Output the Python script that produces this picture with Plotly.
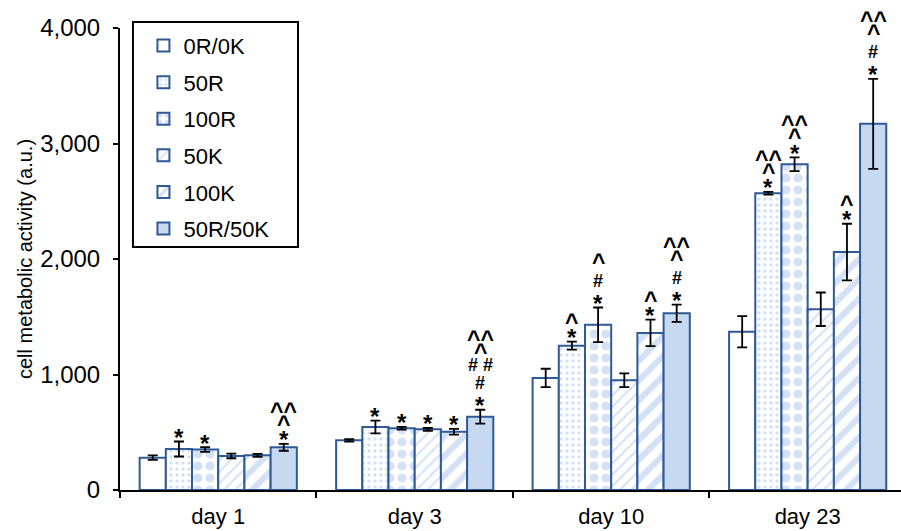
import plotly.graph_objects as go

# Categories and groups
days = ["day 1", "day 3", "day 10", "day 23"]
groups = ["0R/0K", "50R", "100R", "50K", "100K", "50R/50K"]

# Mean cell metabolic activity (a.u.) per group, one value per day
val_0r0k = [280, 430, 970, 1370]
val_50r = [355, 545, 1250, 2570]
val_100r = [350, 535, 1430, 2820]
val_50k = [295, 525, 950, 1565]
val_100k = [300, 505, 1360, 2060]
val_50r50k = [370, 635, 1530, 3170]

# Standard deviations
err_0r0k = [20, 10, 80, 135]
err_50r = [65, 55, 35, 12]
err_100r = [20, 12, 150, 60]
err_50k = [20, 12, 60, 145]
err_100k = [12, 25, 115, 245]
err_50r50k = [30, 60, 75, 390]

# Significance marks, listed from bottom to top
sig_0r0k = [[], [], [], []]
sig_50r = [["*"], ["*"], ["*", "^"], ["*", "^", "^^"]]
sig_100r = [["*"], ["*"], ["*", "#", "^"], ["*", "^", "^^"]]
sig_50k = [[], ["*"], [], []]
sig_100k = [[], ["*"], ["*", "^"], ["*", "^"]]
sig_50r50k = [["*", "^", "^^"], ["*", "#", "# #", "^", "^^"],
              ["*", "#", "^", "^^"], ["*", "#", "^", "^^"]]

values = [val_0r0k, val_50r, val_100r, val_50k, val_100k, val_50r50k]
errors = [err_0r0k, err_50r, err_100r, err_50k, err_100k, err_50r50k]
marks = [sig_0r0k, sig_50r, sig_100r, sig_50k, sig_100k, sig_50r50k]

EDGE = "#2E5A96"
LIGHT = "#A9C4EB"
FILL = "#C6D9F1"

patterns = [
    dict(shape=""),
    dict(shape=".", fgcolor=LIGHT, bgcolor="white", size=6, solidity=0.28, fillmode="overlay"),
    dict(shape=".", fgcolor=LIGHT, bgcolor="white", size=12, solidity=0.45, fillmode="overlay"),
    dict(shape="/", fgcolor=LIGHT, bgcolor="white", size=8, solidity=0.25, fillmode="overlay"),
    dict(shape="/", fgcolor=LIGHT, bgcolor="white", size=14, solidity=0.45, fillmode="overlay"),
    dict(shape=""),
]
fills = ["white", "white", "white", "white", "white", FILL]

fig = go.Figure()
for i, name in enumerate(groups):
    fig.add_trace(go.Bar(
        x=days, y=values[i], name=name, legendgroup=name,
        marker=dict(color=fills[i], line=dict(color=EDGE, width=2),
                    pattern=patterns[i]),
        error_y=dict(type="data", array=errors[i], color="black",
                     thickness=1.8, width=5),
    ))

# Glyph styling for the significance marks
glyph_size = {"*": 24, "#": 18, "# #": 18, "^": 23, "^^": 23}
glyph_fix = {"*": -3, "#": 2, "# #": 2, "^": -1, "^^": -1}
# Vertical distance (px) between consecutive glyph centres
step_after = {("*", "#"): 18, ("#", "# #"): 18, ("#", "^"): 22, ("# #", "^"): 16,
              ("*", "^"): 14, ("^", "^^"): 13}

nb = len(groups)
bargap = 0.2
bw = (1 - bargap) / nb
annotations = []
for i in range(nb):
    for k in range(len(days)):
        syms = marks[i][k]
        if not syms:
            continue
        xc = k - (1 - bargap) / 2 + (i + 0.5) * bw
        top = values[i][k] + errors[i][k]
        off = 7
        prev = None
        for s in syms:
            if prev is not None:
                off += step_after[(prev, s)]
            annotations.append(dict(
                x=xc, y=top, xref="x", yref="y", text="<b>%s</b>" % s,
                showarrow=False, yanchor="middle", xanchor="center",
                yshift=off + glyph_fix[s],
                font=dict(family="Arial", size=glyph_size[s], color="black"),
            ))
            prev = s

# Frame around the legend
legend_frame = dict(
    type="rect", xref="paper", yref="paper",
    x0=0.0166, x1=0.2279, y0=0.526, y1=1.013,
    line=dict(color="black", width=2), fillcolor="white", layer="below",
)

fig.update_layout(
    width=901, height=531,
    margin=dict(l=120, r=0, t=28, b=41),
    paper_bgcolor="white", plot_bgcolor="white",
    barmode="group", bargap=bargap, bargroupgap=0,
    font=dict(family="Arial", size=18, color="black"),
    annotations=annotations,
    shapes=[legend_frame],
    legend=dict(
        x=0.03, y=1.007, xanchor="left", yanchor="top",
        borderwidth=0, bgcolor="rgba(0,0,0,0)",
        font=dict(size=22), tracegroupgap=5, traceorder="grouped",
    ),
    xaxis=dict(
        type="category", range=[-0.5, 3.475],
        showline=True, linecolor="black", linewidth=2,
        ticks="outside", tickson="boundaries", ticklen=6, tickwidth=2,
        tickcolor="black", showgrid=False, tickfont=dict(size=22),
        ticklabelstandoff=6,
    ),
    yaxis=dict(
        range=[0, 4000], dtick=1000, tickformat=",",
        showline=True, linecolor="black", linewidth=2,
        ticks="outside", ticklen=5, tickwidth=2, tickcolor="black",
        showgrid=False, zeroline=False, tickfont=dict(size=24),
        ticklabelstandoff=8,
        title=dict(text="cell metabolic activity (a.u.)", font=dict(size=20),
                   standoff=2),
    ),
)

fig.write_html("out.html")
